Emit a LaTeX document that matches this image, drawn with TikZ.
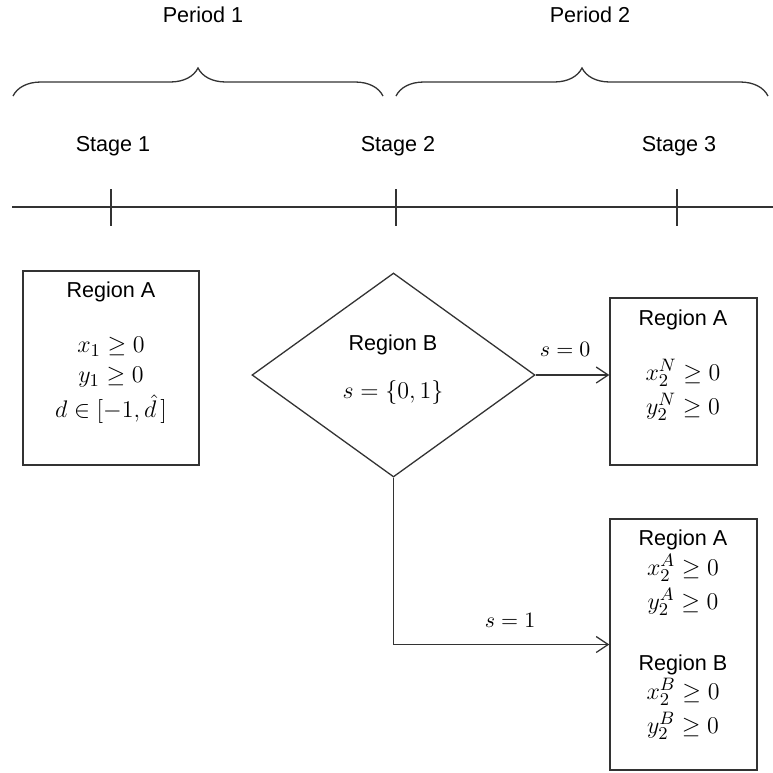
\documentclass[tikz,border=0pt]{standalone}
\usepackage{amsmath}
\usepackage[no-math]{fontspec}
\setmainfont{Liberation Sans}
\usetikzlibrary{arrows.meta,positioning,calc,shapes.geometric,decorations.pathreplacing}
\definecolor{Ink}{HTML}{333333}
\tikzset{
 regionbox/.style={draw=Ink, line width=0.65pt, inner sep=0pt},
 decision/.style={diamond, draw=Ink, line width=0.65pt, inner sep=0pt, minimum width=141.5pt, minimum height=102pt},
 lbl/.style={inner sep=0pt, font=\fontsize{10.8}{13}\selectfont},
 eq/.style={inner sep=0pt, font=\fontsize{13}{15}\selectfont},
 cond/.style={inner sep=0pt, font=\fontsize{10.5}{12}\selectfont},
 flow/.style={-{Straight Barb[length=6pt,width=8pt]}, line width=0.65pt, draw=Ink},
 period/.style={decorate, decoration={brace, amplitude=14pt}, line width=0.65pt, draw=Ink}
}

\begin{document}
\begin{tikzpicture}[x=0.5pt,y=-0.5pt]
\useasboundingbox (0,0) rectangle (773,773);
% periods
\node[lbl] (per1) at (203,15) {Period 1};
\node[lbl] (per2) at (590,15) {Period 2};
\draw[period] (13,96) -- (383,96);
\draw[period] (396,96) -- (768,96);
% timeline
\draw[draw=Ink, line width=0.65pt] (12,207) -- (773,207);
\foreach \x/\s [count=\i] in {111/1,396/2,677/3}{
 \draw[draw=Ink, line width=0.65pt] (\x,189) -- (\x,226);
 \node[lbl] (stage\i) at (\x+2,146) {Stage \s};
}
% stage 1
\node[regionbox, minimum width=88pt, minimum height=97pt] (boxone) at (111,368) {};
\node[lbl] (boxoneA) at (111,292) {Region A};
\node[eq] (xone) at (111,347) {$x_1 \geq 0$};
\node[eq] (yone) at (111,377) {$y_1 \geq 0$};
\node[eq] (done) at (111,409) {$d \in [-1,\hat{d}\,]$};
% stage 2
\node[decision] (regB) at (393.5,375) {};
\node[lbl] (regBtxt) at (393,345) {Region B};
\node[eq] (regBeq) at (393,392) {$s=\{0,1\}$};
% stage 3
\node[regionbox, minimum width=73.5pt, minimum height=83.5pt] (boxtwo) at (683.5,381.5) {};
\node[lbl] (boxtwoA) at (683,320) {Region A};
\node[eq] (xtwoN) at (683,373) {$x_2^N \geq 0$};
\node[eq] (ytwoN) at (683,407) {$y_2^N \geq 0$};
\node[regionbox, minimum width=73.5pt, minimum height=125.5pt] (boxthree) at (683.5,644.5) {};
\node[lbl] (boxthreeA) at (683,540) {Region A};
\node[eq] (xtwoA) at (683,568) {$x_2^A \geq 0$};
\node[eq] (ytwoA) at (683,602) {$y_2^A \geq 0$};
\node[lbl] (boxthreeB) at (683,665) {Region B};
\node[eq] (xtwoB) at (683,692) {$x_2^B \geq 0$};
\node[eq] (ytwoB) at (683,726) {$y_2^B \geq 0$};
% connectors
\draw[flow] (regB.east) -- node[cond, above=9pt, pos=0.4] (szero) {$s=0$} (regB.east -| boxtwo.west);
\draw[flow] (regB.south) |- node[cond, above=8pt, pos=0.77] (sone) {$s=1$} (boxthree.west);
\end{tikzpicture}
\end{document}
